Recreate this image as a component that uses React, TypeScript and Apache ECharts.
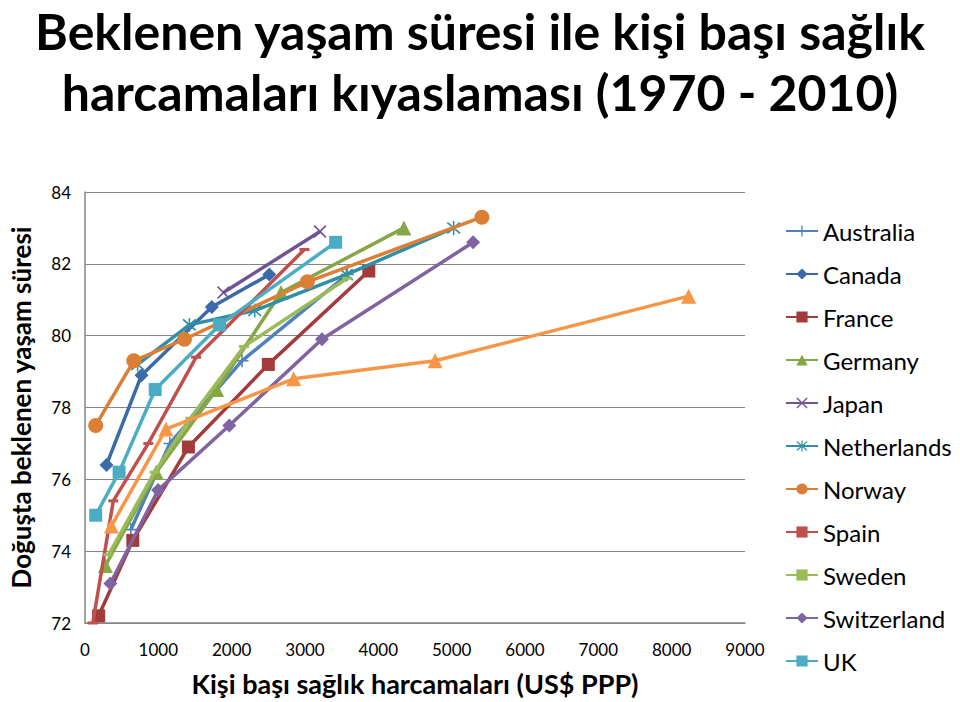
import React, { useEffect, useRef } from "react";
import * as echarts from "echarts";

const titleLine1 = "Beklenen yaşam süresi ile kişi başı sağlık";
const titleLine2 = "harcamaları kıyaslaması (1970 - 2010)";
const xAxisName = "Kişi başı sağlık harcamaları (US$ PPP)";
const yAxisName = "Doğuşta beklenen yaşam süresi";

const countries = [
  "Australia", "Canada", "France", "Germany", "Japan", "Netherlands",
  "Norway", "Spain", "Sweden", "Switzerland", "UK", "USA",
];
const legendNames = countries.slice(0, 11);

// [health spending per capita (US$ PPP), life expectancy]
const australia = [[625, 74.6], [1157, 77.0], [2141, 79.3], [3577, 81.7]];
const canada = [[293, 76.4], [771, 78.9], [1729, 80.8], [2513, 81.7]];
const france = [[186, 72.2], [652, 74.3], [1410, 76.9], [2500, 79.2], [3870, 81.8]];
const germany = [[279, 73.6], [971, 76.2], [1795, 78.5], [2673, 81.2], [4348, 83.0]];
const japan = [[1888, 81.2], [3205, 82.9]];
const netherlands = [[718, 79.2], [1423, 80.3], [2314, 80.7], [3564, 81.7], [5027, 83.0]];
const norway = [[146, 77.5], [665, 79.3], [1356, 79.9], [3032, 81.5], [5412, 83.3]];
const spain = [[106, 72.0], [386, 75.4], [864, 77.0], [1516, 79.4], [2992, 82.4]];
const sweden = [[320, 73.9], [950, 76.2], [1436, 77.7], [2168, 79.7], [3577, 81.6]];
const switzerland = [[346, 73.1], [997, 75.7], [1968, 77.5], [3231, 79.9], [5293, 82.6]];
const uk = [[146, 75.0], [465, 76.2], [957, 78.5], [1835, 80.3], [3418, 82.6]];
const usa = [[359, 74.7], [1104, 77.4], [2846, 78.8], [4774, 79.3], [8231, 81.1]];

const seriesData = [australia, canada, france, germany, japan, netherlands, norway, spain, sweden, switzerland, uk, usa];

const colors = [
  "#4F81BD", "#3A6AAA", "#A23B3A", "#86A746", "#6F5495", "#2F8FA6",
  "#DA7F35", "#C0504D", "#9BBB59", "#8064A2", "#4BACC6", "#F79646",
];

const PLUS = "path://M-0.7,-6H0.7V-0.7H6V0.7H0.7V6H-0.7V0.7H-6V-0.7H-0.7Z";
const XMARK = "path://M-5.6,-4.6L-4.6,-5.6L0,-1L4.6,-5.6L5.6,-4.6L1,0L5.6,4.6L4.6,5.6L0,1L-4.6,5.6L-5.6,4.6L-1,0Z";
const STAR = "path://M-5.6,-4.6L-4.6,-5.6L0,-1L4.6,-5.6L5.6,-4.6L1,0L5.6,4.6L4.6,5.6L0,1L-4.6,5.6L-5.6,4.6L-1,0Z M-0.6,-6.5H0.6V6.5H-0.6Z";
const DASH = "path://M0,0H10V2.4H0Z";

const symbols = [PLUS, "diamond", "rect", "triangle", XMARK, STAR, "circle", DASH, DASH, "diamond", "rect", "triangle"];
const symbolSizes: any[] = [13, 14, 13, 15, 13, 14, 15, [10, 3], [10, 3], 14, 13, 15];

export default function App() {
  const ref = useRef<HTMLDivElement>(null);
  useEffect(() => {
    if (!ref.current) return;
    const chart = echarts.init(ref.current, undefined, { renderer: "svg" });
    const font = "Lato, 'Open Sans', sans-serif";
    const titleStyle = {
      fontFamily: font,
      fontWeight: "bold",
      fontSize: 50,
      lineHeight: 60,
      fill: "#000",
      align: "center",
      verticalAlign: "top",
    };
    chart.setOption({
      animation: false,
      backgroundColor: "#ffffff",
      graphic: [
        { type: "text", x: 480, y: 1, style: { ...titleStyle, text: titleLine1 } },
        { type: "text", x: 480, y: 62, style: { ...titleStyle, text: titleLine2 } },
      ],
      legend: {
        orient: "vertical",
        left: 780,
        top: 213,
        itemWidth: 32,
        itemHeight: 14,
        itemGap: 17,
        data: legendNames,
        textStyle: { fontFamily: font, fontSize: 24, color: "#000", lineHeight: 26 },
      },
      grid: { left: 69, right: 215, top: 192, bottom: 73, containLabel: false },
      xAxis: {
        type: "value",
        min: 0,
        max: 9000,
        interval: 1000,
        name: xAxisName,
        nameLocation: "middle",
        nameGap: 47,
        nameTextStyle: { fontFamily: font, fontWeight: "bold", fontSize: 27, color: "#000" },
        axisLine: { show: true, lineStyle: { color: "#868686", width: 1.5 } },
        axisTick: { show: false },
        splitLine: { show: false },
        axisLabel: { fontFamily: font, fontSize: 17, color: "#000", margin: 18, formatter: (v: number) => String(v) },
      },
      yAxis: {
        type: "value",
        min: 72,
        max: 84,
        interval: 2,
        name: yAxisName,
        nameLocation: "middle",
        nameGap: 51,
        nameTextStyle: { fontFamily: font, fontWeight: "bold", fontSize: 26, color: "#000" },
        axisLine: { show: true, lineStyle: { color: "#868686", width: 1.5 } },
        axisTick: { show: false },
        splitLine: { show: true, lineStyle: { color: "#868686", width: 1.2 } },
        axisLabel: { fontFamily: font, fontSize: 17, color: "#000", margin: 14 },
      },
      series: countries.map((name, i) => ({
        name,
        type: "line",
        data: seriesData[i],
        symbol: symbols[i],
        symbolSize: symbolSizes[i],
        showAllSymbol: true,
        clip: false,
        lineStyle: { color: colors[i], width: 3.5 },
        itemStyle: { color: colors[i] },
        z: 2 + i,
      })),
    });
    return () => chart.dispose();
  }, []);
  return (
    <div
      ref={ref}
      style={{ position: "fixed", left: 0, top: 0, width: 960, height: 702, background: "#fff" }}
    />
  );
}
